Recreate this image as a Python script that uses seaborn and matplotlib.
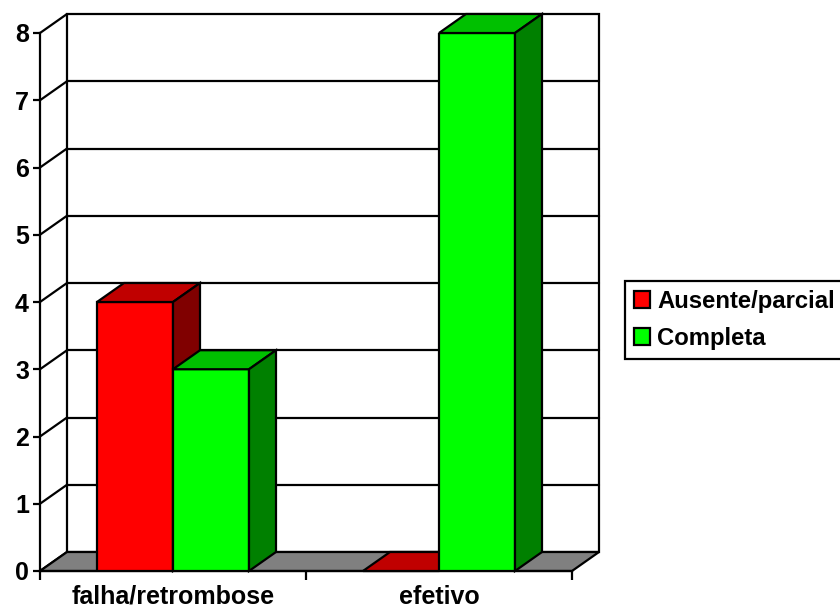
import matplotlib
matplotlib.use("Agg")
import matplotlib.pyplot as plt
from matplotlib.patches import Polygon, Rectangle, Patch
import pandas as pd
import seaborn as sns

categories = ["falha/retrombose", "efetivo"]
series = ["Ausente/parcial", "Completa"]
ausente = [4, 0]
completa = [3, 8]
y_ticks = [0, 1, 2, 3, 4, 5, 6, 7, 8]

front = {"Ausente/parcial": "#FF0000", "Completa": "#00FF00"}
top = {"Ausente/parcial": "#C00000", "Completa": "#00C000"}
side = {"Ausente/parcial": "#800000", "Completa": "#008000"}

sns.set_style("white")
plt.rcParams["font.family"] = ["Liberation Sans", "DejaVu Sans"]
plt.rcParams["font.weight"] = "bold"
plt.rcParams["text.color"] = "black"
plt.rcParams["xtick.color"] = "black"
plt.rcParams["ytick.color"] = "black"
plt.rcParams["axes.labelcolor"] = "black"

FS = 18

df = pd.DataFrame({
    "grupo": categories * 2,
    "serie": [series[0]] * len(categories) + [series[1]] * len(categories),
    "valor": ausente + completa,
})

fig = plt.figure(figsize=(8.4, 6.11), dpi=100)
ax = fig.add_axes([40 / 840, 40 / 611, 532 / 840, 538 / 611])

sns.barplot(data=df, x="grupo", y="valor", hue="serie", order=categories,
            hue_order=series, palette=[front[s] for s in series],
            width=4 / 7, gap=0, edgecolor="black", linewidth=1.5,
            saturation=1, legend=False, ax=ax)

ax.set_xlim(-0.5, 1.5)
ax.set_ylim(0, 8)
ax.set_xlabel("")
ax.set_ylabel("")

# depth offset of the 3D box, in data units
dx = 27 / 532 * 2
dy = 19 / (538 / 8)
lw = 1.6

# back wall with gridlines
ax.add_patch(Rectangle((-0.5 + dx, dy), 2, 8, facecolor="white",
                       edgecolor="black", lw=lw, clip_on=False, zorder=0.5))
for v in y_ticks[1:-1]:
    ax.plot([-0.5 + dx, 1.5 + dx], [v + dy, v + dy], color="black", lw=lw,
            clip_on=False, zorder=0.6)
# left side wall diagonals
for v in y_ticks:
    ax.plot([-0.5, -0.5 + dx], [v, v + dy], color="black", lw=lw,
            clip_on=False, zorder=0.6)

# floor
ax.add_patch(Polygon([(-0.5, 0), (1.5, 0), (1.5 + dx, dy), (-0.5 + dx, dy)],
                     closed=True, facecolor="#808080", edgecolor="black",
                     lw=lw, clip_on=False, zorder=1))

# give each bar its top and side faces
bars = sorted(list(ax.patches)[:len(df)], key=lambda p: p.get_x())
col_to_series = {matplotlib.colors.to_hex(front[s]): s for s in series}
for i, p in enumerate(bars):
    x0, w, h = p.get_x(), p.get_width(), p.get_height()
    s = col_to_series[matplotlib.colors.to_hex(p.get_facecolor())]
    z = 3 + i * 0.1
    p.set_zorder(z)
    p.set_linewidth(lw)
    ax.add_patch(Polygon([(x0, h), (x0 + w, h), (x0 + w + dx, h + dy),
                          (x0 + dx, h + dy)], closed=True,
                         facecolor=top[s], edgecolor="black", lw=lw,
                         clip_on=False, zorder=z + 0.01))
    if h > 0:
        ax.add_patch(Polygon([(x0 + w, 0), (x0 + w + dx, dy),
                              (x0 + w + dx, h + dy), (x0 + w, h)], closed=True,
                             facecolor=side[s], edgecolor="black", lw=lw,
                             clip_on=False, zorder=z + 0.01))

for sp in ["top", "right"]:
    ax.spines[sp].set_visible(False)
for sp in ["left", "bottom"]:
    ax.spines[sp].set_linewidth(lw)
    ax.spines[sp].set_color("black")
    ax.spines[sp].set_zorder(2)

ax.set_yticks(y_ticks)
ax.set_yticklabels([str(v) for v in y_ticks], fontsize=FS, fontweight="bold")
ax.tick_params(axis="y", direction="out", length=5, width=lw, pad=3,
               colors="black", left=True)

ax.set_xticks([-0.5, 0.5, 1.5])
ax.set_xticklabels(["", "", ""])
ax.set_xticks([0, 1], minor=True)
ax.set_xticklabels(categories, minor=True, fontsize=FS, fontweight="bold")
ax.tick_params(axis="x", which="major", direction="out", length=6.5,
               width=lw, colors="black", bottom=True)
ax.tick_params(axis="x", which="minor", length=0, width=0, pad=10,
               colors="black")
ax.grid(False)

handles = [Patch(facecolor=front[s], edgecolor="black", lw=lw) for s in series]
leg = fig.legend(handles=handles, labels=series, loc="upper left",
                 bbox_to_anchor=(625 / 840, 1 - 281 / 611),
                 bbox_transform=fig.transFigure, frameon=True, fancybox=False,
                 edgecolor="black", framealpha=1, borderaxespad=0,
                 borderpad=0.37, handlelength=0.68, handleheight=0.68,
                 handletextpad=0.3, labelspacing=0.58,
                 prop={"size": 17.2, "weight": "bold"})
leg.get_frame().set_linewidth(lw)
for t in leg.get_texts():
    t.set_color("black")

fig.savefig("out.png", dpi=100)
